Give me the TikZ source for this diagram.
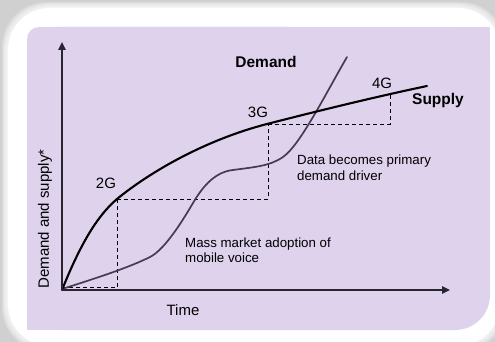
\documentclass[tikz,border=0pt]{standalone}
\usepackage{fontspec}
\setmainfont{Liberation Sans}
\usetikzlibrary{arrows.meta}
\definecolor{lav}{RGB}{222,210,237}
\definecolor{demcol}{RGB}{72,58,84}
\definecolor{axcol}{RGB}{40,36,48}
\definecolor{shadow}{RGB}{208,208,208}
\tikzset{
  axis/.style={draw=axcol, line width=1.4pt, -{Triangle[length=8pt,width=7.5pt]}},
  supplyline/.style={draw=black, line width=2.1pt, line cap=round},
  demandline/.style={draw=demcol, line width=1.7pt, line cap=round},
  guide/.style={draw=black, line width=0.9pt, dash pattern=on 4pt off 3pt},
  biglabel/.style={font=\fontsize{15.5}{17}\selectfont\bfseries, inner sep=0pt},
  genlabel/.style={font=\fontsize{15}{17}\selectfont, inner sep=0pt},
  note/.style={font=\fontsize{13.3}{15.5}\selectfont, inner sep=0pt, align=left, anchor=west},
}
\begin{document}
\begin{tikzpicture}[x=1pt,y=-1pt]
\useasboundingbox (0,0) rectangle (495,342);
% frame background
\fill[shadow] (0,0) rectangle (495,342);
\foreach \i in {1,...,6}
  \fill[white, opacity=0.22, rounded corners=45pt] (8-\i,8-\i) rectangle (500+\i,346+\i);
\fill[white, rounded corners=42pt] (8,8) rectangle (500,346);
% lavender panel
\fill[lav, rounded corners=35pt] (27,27) rectangle (490,330);
\fill[lav] (300,27) rectangle (490,200);
\fill[lav] (27,200) rectangle (300,330);
\fill[lav, rounded corners=12pt] (27,27) rectangle (300,200);

% key points
\coordinate (O) at (62,290);
\coordinate (Ytip) at (62,42);
\coordinate (Xtip) at (450,290);
\coordinate (A) at (117,199);
\coordinate (A0) at (117,287);
\coordinate (O0) at (62,287);
\coordinate (A1) at (268,199);
\coordinate (B) at (268,124);
\coordinate (C) at (390,124);
\coordinate (Ctop) at (390,94);
\coordinate (Send) at (427,86);
\coordinate (D0) at (62,289);
\coordinate (Dend) at (347,57);

% dashed guides
\draw[guide] (O0) -- (A0);
\draw[guide] (A) -- (A0);
\draw[guide] (A) -- (A1) -- (B);
\draw[guide] (B) -- (C) -- (Ctop);

% demand curve
\draw[demandline] (D0) .. controls (100,277) and (130,267) .. (150,257)
  .. controls (165,249.5) and (183,220) .. (193,203)
  .. controls (203,186) and (215,172) .. (233,170)
  .. controls (255,167) and (270,166) .. (283,157)
  .. controls (300,145.2) and (325,95) .. (Dend);
% supply curve
\draw[supplyline] (O) .. controls (80,245) and (97,216) .. (A)
  .. controls (150,172) and (205,140) .. (267,124)
  .. controls (310,113) and (370,98) .. (Send);

% axes
\draw[axis] (O) -- (Ytip);
\draw[axis] (O) -- (Xtip);

% labels
\node[biglabel] (dem) at (266,62) {Demand};
\node[biglabel] (sup) at (438,100) {Supply};
\node[genlabel] (g4) at (382,83) {4G};
\node[genlabel] (g3) at (258,112) {3G};
\node[genlabel] (g2) at (106,183) {2G};
\node[note] (data) at (297,167.5) {Data becomes primary\\demand driver};
\node[note] (mass) at (185,250) {Mass market adoption of\\mobile voice};
\node[genlabel] (time) at (183,310) {Time};
\node[genlabel, rotate=90] (ylab) at (45,219) {Demand and supply*};
\end{tikzpicture}
\end{document}
